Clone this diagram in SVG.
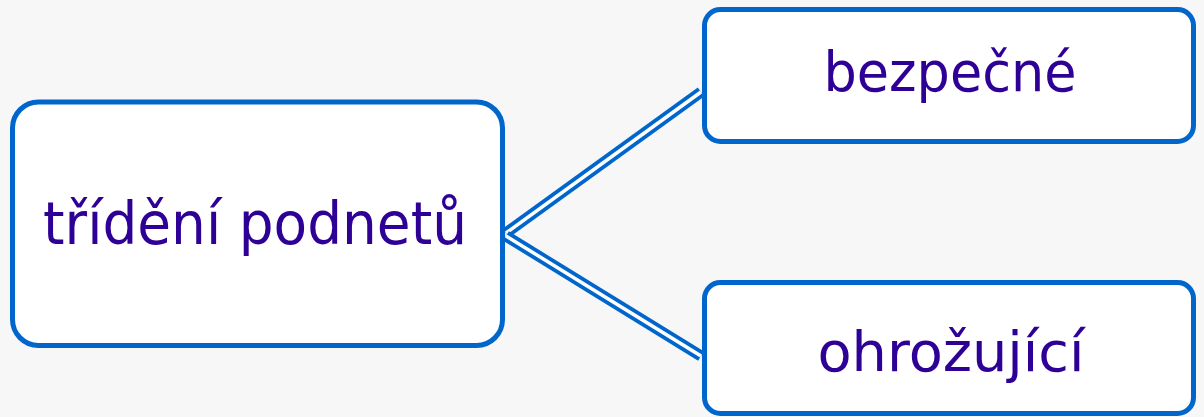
<svg xmlns="http://www.w3.org/2000/svg" width="1204" height="417" viewBox="0 0 1204 417">
<style>
.box{fill:#ffffff;stroke:#0066cc;stroke-width:5}
.lbl{font-family:"DejaVu Sans","Liberation Sans",sans-serif;fill:#2e0096;text-anchor:middle}
.outer{fill:none;stroke:#0066cc;stroke-width:11}
.inner{fill:none;stroke:#ffffff;stroke-width:3.5}
</style>
<rect x="0" y="0" width="1204" height="417" fill="#f7f7f7"/>
<g id="connectors">
<path class="outer" d="M506,233 L701,92"/>
<path class="inner" d="M506,233 L701,92"/>
<path class="outer" d="M506,236 L701,356"/>
<path class="inner" d="M506,236 L701,356"/>
</g>
<g id="node-trideni">
<rect class="box" x="12.5" y="102" width="490" height="243.5" rx="26"/>
<text class="lbl" x="255" y="244" font-size="58" textLength="424" lengthAdjust="spacingAndGlyphs">třídění podnetů</text>
</g>
<g id="node-bezpecne">
<rect class="box" x="704.5" y="9.5" width="489" height="132" rx="16"/>
<text class="lbl" x="950" y="91" font-size="56" textLength="253" lengthAdjust="spacingAndGlyphs">bezpečné</text>
</g>
<g id="node-ohrozujici">
<rect class="box" x="704.5" y="282.5" width="489" height="131" rx="16"/>
<text class="lbl" x="951" y="371" font-size="56" textLength="267" lengthAdjust="spacingAndGlyphs">ohrožující</text>
</g>
</svg>
